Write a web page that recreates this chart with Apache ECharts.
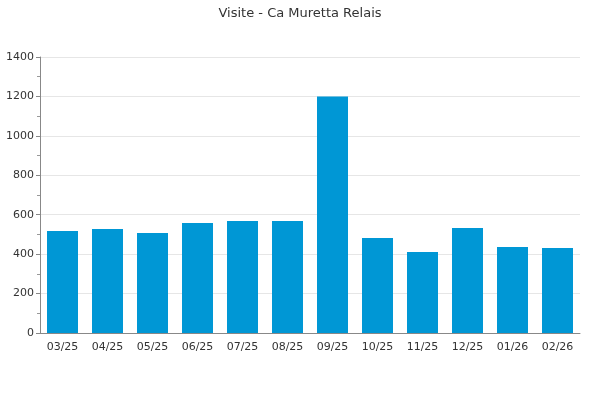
<!DOCTYPE html>
<html><head><meta charset="utf-8">
<script src="https://cdn.jsdelivr.net/npm/echarts@6/dist/echarts.min.js"></script>
<style>html,body{margin:0;padding:0;background:#fff}#c{width:600px;height:400px}</style>
</head><body><div id="c"></div>
<script>
const categories = ['03/25','04/25','05/25','06/25','07/25','08/25','09/25','10/25','11/25','12/25','01/26','02/26'];
const visits = [518, 527, 507, 558, 568, 568, 1200, 482, 411, 533, 436, 431];
const yTicks = [0, 200, 400, 600, 800, 1000, 1200, 1400];

const chart = echarts.init(document.getElementById('c'), null, {renderer:'canvas'});
chart.setOption({
  animation: false,
  backgroundColor: '#fff',
  textStyle: { fontFamily: 'DejaVu Sans' },
  title: {
    text: 'Visite - Ca Muretta Relais', left: 'center', top: 2,
    textStyle: { fontFamily: 'DejaVu Sans', fontSize: 13, fontWeight: 'normal', color: '#333' }
  },
  grid: { left: 40, right: 20, top: 57, bottom: 67, containLabel: false },
  xAxis: {
    type: 'category', data: categories,
    axisLine: { lineStyle: { color: '#888' } },
    axisTick: { show: false },
    axisLabel: { color: '#333', fontSize: 11, margin: 9, fontFamily: 'DejaVu Sans' }
  },
  yAxis: {
    type: 'value', min: yTicks[0], max: yTicks[yTicks.length-1], interval: 200,
    axisLine: { show: true, lineStyle: { color: '#888' } },
    axisTick: { show: true, length: 4, lineStyle: { color: '#888' } },
    minorTick: { show: true, splitNumber: 2, length: 3, lineStyle: { color: '#999' } },
    splitLine: { lineStyle: { color: '#e6e6e6' } },
    axisLabel: { color: '#333', fontSize: 11, margin: 6, fontFamily: 'DejaVu Sans', formatter: v => String(v) }
  },
  series: [{
    type: 'bar', data: visits, barWidth: 31, barGap: '0%',
    itemStyle: { color: '#0097d5' }
  }]
});
</script></body></html>
